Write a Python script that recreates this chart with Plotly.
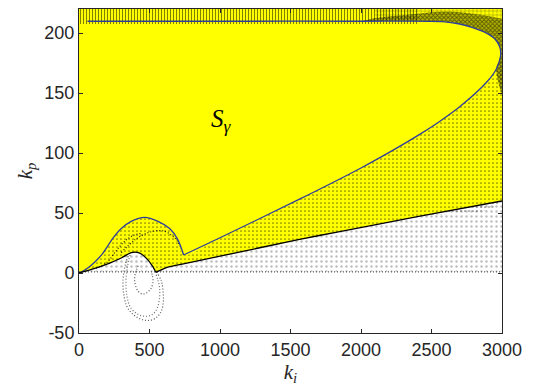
import plotly.graph_objects as go
import numpy as np

# ---- data (ki, kp) ----
black_ki = [0, 100, 218, 300, 372, 430, 480, 520, 546, 620, 715, 1000, 1564, 1849, 2400, 3000]
black_kp = [0, 3.5, 8.3, 12.5, 17, 16.6, 12, 6, 0.5, 4.5, 7, 14, 28, 34.5, 47, 60]
black_cusp = 8

blue_ki = [0, 60, 120, 170, 241, 300, 370, 466, 560, 643, 700, 742,
           1000, 1564, 2000, 2274, 2416, 2560, 2700, 2889, 2960, 2990,
           2985, 2950, 2880, 2792, 2700, 2580, 2000, 1000, 60]
blue_kp = [0, 4, 10, 16.6, 29, 37, 43, 46.4, 43, 37, 28, 15,
           29.4, 61.5, 87.5, 105.5, 115.5, 126.5, 138.5, 158.7, 170, 181,
           188, 195, 200.5, 204.5, 207.5, 209.5, 209.8, 209.8, 209.8]
blue_cusp = 11

# dark hatch band hugging the upper right of the region
band_outer_ki = [2100, 2400, 2600, 2800, 2950, 3000]
band_outer_kp = [212.5, 216, 218, 216, 213, 211]

# dotted loops below the hump
loop1_ki = [350, 330, 312, 318, 340, 383, 440, 501, 550, 584, 598, 596, 585, 560]
loop1_kp = [14, 8, -7, -18, -28, -34.5, -38.5, -39.5, -37, -31.7, -24, -15, -7, -1]
loop2_ki = [362, 345, 333, 340, 362, 405, 460, 515, 552, 570, 572, 560, 545]
loop2_kp = [15, 6, -7, -19, -28, -33.5, -36, -35, -30, -22, -13, -6, -1]
loop3_ki = [420, 400, 395, 418, 450, 478, 510, 525, 520, 513]
loop3_kp = [6, 0, -7, -15, -17.5, -16.6, -13, -7, -2, 1.4]

# dotted arcs inside the hump
arcA_ki = [300, 400, 500, 600, 680, 720, 745]
arcA_kp = [17, 28, 34, 35, 29, 22, 14]
arcB_ki = [120, 200, 260, 320, 380, 440]
arcB_kp = [4, 9, 18, 26, 31, 33]

zero_ki = [0, 3000]
zero_kp = [1, 1]

x_range = [0, 3000]
y_range = [-50, 220]
x_ticks = [0, 500, 1000, 1500, 2000, 2500, 3000]
y_ticks = [-50, 0, 50, 100, 150, 200]

label_ki, label_kp = 1012, 127

YEL = "#FFFF00"
DOT = "1px,2px"
fig = go.Figure()


def patch(xs, ys, shape, fg, size, solidity, lshape="linear", bg="rgba(0,0,0,0)"):
    fig.add_trace(go.Scatter(
        x=xs, y=ys, fill="toself", fillcolor="rgba(0,0,0,0)",
        mode="lines", line=dict(width=0, shape=lshape),
        fillpattern=dict(shape=shape, fgcolor=fg, bgcolor=bg,
                         size=size, solidity=solidity),
        hoverinfo="skip", showlegend=False))


# yellow region above black boundary
fig.add_trace(go.Scatter(
    x=black_ki + [3000, 0], y=black_kp + [220, 220],
    fill="toself", fillcolor=YEL, mode="lines", line=dict(width=0),
    hoverinfo="skip", showlegend=False))

# lower white region with grey dotted texture
patch(black_ki + [3000, 0], black_kp + [1, 1], ".", "#7a7a7a", 5, 0.18)

# wedge between black and blue boundaries
ir = int(np.argmax(blue_ki))
w_ki = black_ki + [3000] + blue_ki[:ir + 1][::-1]
w_kp = black_kp + [150] + blue_kp[:ir + 1][::-1]
patch(w_ki, w_kp, ".", "black", 4, 0.15, "spline")

# top band with vertical strokes
patch([0, 2400, 2400, 0], [207.5, 207.5, 220, 220], "|", "black", 3, 0.33)

# top-right texture
patch(band_outer_ki + [3000, 2100], band_outer_kp + [220, 220], "+", "black", 4, 0.2)

# dark band hugging the egg (outer edge, then egg from its lower right back to the top)
egg_ki = blue_ki[ir - 1:len(blue_ki) - 2]
egg_kp = blue_kp[ir - 1:len(blue_kp) - 2]
patch(band_outer_ki + [3000] + egg_ki, band_outer_kp + [150] + egg_kp, "x", "black", 3, 0.5,
      "spline", bg="rgba(40,40,0,0.35)")

# dotted curves
for xs, ys, c in [(loop1_ki, loop1_kp, "#555555"), (loop2_ki, loop2_kp, "#707070"),
                  (loop3_ki, loop3_kp, "#555555"), (arcA_ki, arcA_kp, "#1a1a1a"),
                  (arcB_ki, arcB_kp, "#1a1a1a"), (zero_ki, zero_kp, "#555555")]:
    fig.add_trace(go.Scatter(x=xs, y=ys, mode="lines",
                             line=dict(color=c, width=1.2, dash=DOT, shape="spline"),
                             hoverinfo="skip", showlegend=False))

# boundaries
for a, b in [(0, blue_cusp + 1), (blue_cusp, len(blue_ki))]:
    fig.add_trace(go.Scatter(x=blue_ki[a:b], y=blue_kp[a:b], mode="lines",
                             line=dict(color="#2e3c9c", width=1.3, shape="spline", smoothing=0.8),
                             hoverinfo="skip", showlegend=False))
for a, b in [(0, black_cusp + 1), (black_cusp, len(black_ki))]:
    fig.add_trace(go.Scatter(x=black_ki[a:b], y=black_kp[a:b], mode="lines",
                             line=dict(color="black", width=1.3, shape="spline", smoothing=0.8),
                             hoverinfo="skip", showlegend=False))

fig.add_annotation(x=label_ki, y=label_kp, text="<i>S</i><sub><i>γ</i></sub>",
                   showarrow=False, font=dict(family="Liberation Serif", size=25, color="black"))

axis_common = dict(showline=True, linecolor="#262626", linewidth=1, mirror="ticks",
                   ticks="inside", ticklen=4, tickcolor="#262626", showgrid=False,
                   zeroline=False,
                   tickfont=dict(family="Liberation Sans", size=18, color="#262626"))
fig.update_xaxes(range=x_range, tickvals=x_ticks, ticktext=[str(v) for v in x_ticks],
                 **axis_common,
                 title=dict(text="<i>k</i><sub><i>i</i></sub>",
                            font=dict(family="Liberation Serif", size=21, color="#262626"),
                            standoff=2))
fig.update_yaxes(range=y_range, tickvals=y_ticks, ticktext=[str(v) for v in y_ticks],
                 **axis_common,
                 title=dict(text="<i>k</i><sub><i>p</i></sub>",
                            font=dict(family="Liberation Serif", size=21, color="#262626"),
                            standoff=6))
# page body adds an 8px offset, so the figure is 8px smaller and margins shifted
fig.update_layout(width=525, height=381, margin=dict(l=71, r=31, t=1, b=56),
                  plot_bgcolor="white", paper_bgcolor="white")
fig.write_html("out.html")
